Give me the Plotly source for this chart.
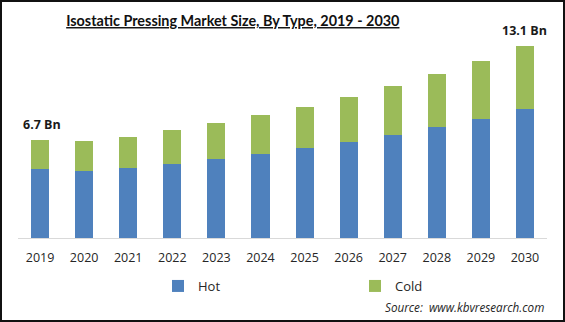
import plotly.graph_objects as go

years = ["2019", "2020", "2021", "2022", "2023", "2024", "2025", "2026", "2027", "2028", "2029", "2030"]
hot = [4.71, 4.57, 4.78, 5.05, 5.39, 5.75, 6.16, 6.57, 7.03, 7.58, 8.12, 8.81]
cold = [1.99, 2.05, 2.11, 2.32, 2.48, 2.67, 2.80, 3.08, 3.35, 3.61, 3.96, 4.29]
labels = {"2019": "6.7 Bn", "2030": "13.1 Bn"}

W, H = 565, 322
ML, MR, MT, MB = 18, 18, 30, 84
PW, PH = W - ML - MR, H - MT - MB

def px(x):
    return (x - ML) / PW

def py(y):
    return (H - MB - y) / PH

fig = go.Figure()
fig.add_trace(go.Bar(x=years, y=hot, name="Hot", legend="legend", showlegend=True,
                     marker=dict(color="#4f81bd", line=dict(width=0))))
fig.add_trace(go.Bar(x=years, y=cold, name="Cold", legend="legend2", showlegend=True,
                     marker=dict(color="#9bbb59", line=dict(width=0))))

for i, y in enumerate(years):
    if y in labels:
        fig.add_annotation(x=i, y=hot[i] + cold[i], text="<b>" + labels[y] + "</b>",
                           showarrow=False, yanchor="bottom", yshift=5, xshift=2 if i == 0 else 0,
                           font=dict(family="Open Sans", size=12.5, color="#1a1a1a"))

fig.add_annotation(xref="paper", yref="paper", x=px(546), y=py(307), xanchor="right", yanchor="middle",
                   text="<i>Source:  www.kbvresearch.com</i>", showarrow=False,
                   font=dict(family="Open Sans", size=11.7, color="#262626"))

fig.add_shape(type="rect", xref="paper", yref="paper", x0=px(1), x1=px(564), y0=py(321), y1=py(1),
              line=dict(color="#111111", width=2), fillcolor="rgba(0,0,0,0)")

legfont = dict(family="Open Sans", size=13, color="#262626")
fig.update_layout(
    width=W, height=H, showlegend=True,
    margin=dict(l=ML, r=MR, t=MT, b=MB),
    barmode="stack", bargap=0.59,
    paper_bgcolor="white", plot_bgcolor="white",
    title=dict(text="<b><u>Isostatic Pressing Market Size, By Type, 2019 - 2030</u></b>",
               x=px(236), xanchor="center", y=1 - 21 / H, yanchor="middle",
               font=dict(family="Lato", size=14.4, color="#111111")),
    xaxis=dict(type="category", range=[-0.5, len(years) - 0.5], showline=True,
               linecolor="#d9d9d9", linewidth=1, ticks="", ticklabelstandoff=8,
               tickfont=dict(family="Open Sans", size=12.5, color="#262626")),
    yaxis=dict(range=[0, PH / 14.65], visible=False, showgrid=False),
    legend=dict(orientation="h", x=px(158), y=py(286), xanchor="left", yanchor="middle",
                bgcolor="rgba(0,0,0,0)", font=legfont),
    legend2=dict(orientation="h", x=px(355), y=py(286), xanchor="left", yanchor="middle",
                 bgcolor="rgba(0,0,0,0)", font=legfont),
)

fig.write_html("out.html")
